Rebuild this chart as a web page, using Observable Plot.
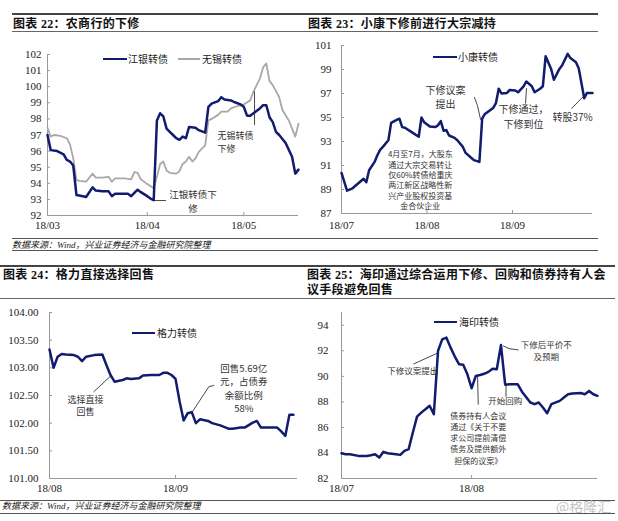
<!DOCTYPE html>
<html><head><meta charset="utf-8">
<script src="https://cdn.jsdelivr.net/npm/d3@7"></script>
<script src="https://cdn.jsdelivr.net/npm/@observablehq/plot@0.6"></script>
<style>
body{margin:0;background:#fff;}
#page{position:relative;width:618px;height:521px;overflow:hidden;font-family:"Noto Sans CJK SC",sans-serif;color:#222;}
</style></head><body><div id="page"></div>
<script>
// ---------- data ----------
const YEAR = "2018-";
// 图表22 江银转债 / 无锡转债
const jyDates = ["03-01","03-02","03-04","03-06","03-07","03-08","03-09","03-10","03-12","03-13","03-15","03-16","03-18","03-20","03-21","03-22","03-25","03-26","03-27","03-29","03-30","04-01","04-02","04-03","04-04","04-05","04-06","04-07","04-08","04-09","04-10","04-11","04-12","04-13","04-14","04-16","04-17","04-19","04-20","04-21","04-23","04-24","04-25","04-27","04-28","04-30","05-01","05-02","05-03","05-04","05-06","05-07","05-08","05-09","05-10","05-11","05-12","05-13","05-14","05-16","05-17","05-18"];
const jyValues = [97.0,96.06,96.0,95.8,95.45,95.35,95.1,93.27,93.2,93.15,93.75,93.55,93.5,93.5,93.2,93.35,93.35,93.35,93.2,93.6,93.45,93.2,93.05,92.95,97.9,98.35,98.15,97.4,97.2,97.0,96.8,96.7,96.9,96.8,97.5,97.45,97.3,97.15,98.75,98.95,99.1,99.35,99.2,99.15,99.05,98.9,98.75,98.2,98.2,98.35,98.65,98.85,98.85,98.1,97.8,97.2,97.0,96.75,96.5,95.65,94.6,94.85];
const wxDates = ["03-01","03-02","03-03","03-05","03-07","03-08","03-09","03-10","03-11","03-13","03-15","03-16","03-18","03-20","03-21","03-22","03-25","03-27","03-28","03-29","03-30","04-01","04-03","04-04","04-05","04-06","04-07","04-08","04-10","04-11","04-12","04-13","04-14","04-15","04-16","04-17","04-19","04-20","04-21","04-23","04-24","04-26","04-27","04-29","05-01","05-03","05-04","05-06","05-07","05-08","05-09","05-10","05-12","05-13","05-15","05-16","05-17","05-18"];
const wxValues = [97.45,96.9,97.0,96.95,96.8,96.4,95.55,94.2,94.15,94.1,94.6,94.35,94.35,94.4,94.1,94.3,94.3,94.25,94.7,94.65,94.25,93.95,93.7,94.4,95.2,95.35,94.8,94.65,94.6,94.75,95.2,95.35,95.65,95.35,95.55,95.95,96.35,97.9,98.0,98.25,98.45,98.45,98.65,98.8,98.9,99.15,99.7,100.5,101.2,101.45,100.35,100.1,99.35,98.55,97.9,97.4,96.9,97.7];
// 图表23 小康转债
const xkDates = ["07-01","07-03","07-05","07-07","07-09","07-10","07-11","07-13","07-14","07-15","07-16","07-18","07-19","07-21","07-22","07-23","07-24","07-27","07-29","07-30","07-31","08-02","08-04","08-05","08-06","08-07","08-08","08-09","08-11","08-12","08-14","08-15","08-17","08-18","08-20","08-21","08-22","08-25","08-26","08-27","08-28","08-30","08-31","09-02","09-03","09-05","09-06","09-08","09-09","09-11","09-12","09-13","09-15","09-16","09-18","09-19","09-21","09-22","09-24","09-25","09-27","09-28","09-30"];
const xkValues = [90.38,88.9,89.1,89.5,89.9,89.6,90.6,91.3,91.85,92.3,92.55,93.1,94.55,94.8,94.9,94.2,94.15,93.7,93.4,95.0,94.6,94.25,94.2,94.35,94.7,93.9,93.95,93.5,93.3,93.1,92.55,92.05,91.65,91.45,91.3,94.9,95.3,95.8,96.2,97.4,97.0,97.05,97.3,97.25,97.1,97.6,98.0,97.6,97.1,97.4,97.6,100.1,99.05,98.15,99.05,99.35,100.3,99.95,99.6,99.1,96.6,97.05,97.05];
// 图表24 格力转债
const glDates = ["08-01","08-02","08-03","08-04","08-05","08-07","08-08","08-09","08-10","08-12","08-14","08-15","08-16","08-17","08-19","08-20","08-21","08-23","08-24","08-26","08-28","08-29","08-30","08-31","09-01","09-02","09-03","09-04","09-05","09-06","09-07","09-09","09-10","09-12","09-14","09-15","09-17","09-18","09-20","09-21","09-22","09-23","09-24","09-26","09-27","09-28","09-29","09-30"];
const glValues = [103.33,103.0,103.2,103.25,103.24,103.23,103.2,103.12,103.2,103.23,103.24,103.05,102.87,102.75,102.78,102.81,102.8,102.81,102.86,102.87,102.87,102.91,102.91,102.87,102.8,102.39,102.05,102.18,102.2,102.0,102.07,102.04,102.0,101.96,101.9,101.9,101.92,101.92,102.01,102.04,101.92,101.92,101.92,101.92,101.85,101.77,102.15,102.15];
// 图表25 海印转债
const hyDates = ["07-01","07-02","07-03","07-05","07-07","07-08","07-09","07-10","07-11","07-12","07-14","07-15","07-16","07-17","07-18","07-19","07-20","07-21","07-22","07-23","07-24","07-25","07-26","07-27","07-28","07-29","07-30","07-31","08-01","08-02","08-03","08-04","08-05","08-06","08-07","08-08","08-09","08-10","08-12","08-13","08-15","08-16","08-17","08-18","08-19","08-20","08-22","08-23","08-24","08-25","08-27","08-28","08-29","08-30","08-31"];
const hyValues = [83.98,83.9,83.9,83.77,83.77,83.82,83.9,83.64,84.09,83.98,83.9,83.85,84.16,84.3,85.6,86.85,87.16,87.42,87.7,87.03,92.0,92.9,93.03,92.25,91.55,90.95,90.9,90.16,89.07,90.03,90.1,90.2,90.35,90.6,90.55,92.45,89.35,89.38,89.38,88.8,87.95,87.82,87.95,87.56,87.11,87.82,88.08,88.34,88.6,88.65,88.7,88.6,88.86,88.6,88.47];

// axes
const p1XTicks = ["03-01","04-01","05-01"], p1YTicks = [92,93,94,95,96,97,98,99,100,101,102];
const p2XTicks = ["07-01","08-01","09-01"], p2YTicks = [87,89,91,93,95,97,99,101];
const p3XTicks = ["08-01","09-01"], p3YTicks = [101,101.5,102,102.5,103,103.5,104];
const p4XTicks = ["07-01","08-01"], p4YTicks = [82,84,86,88,90,92,94];

// texts
const titles = ["图表 22：农商行的下修","图表 23：小康下修前进行大宗减持","图表 24：格力直接选择回售","图表 25：海印通过综合运用下修、回购和债券持有人会\n议手段避免回售"];
const sourceText = "数据来源：Wind，兴业证券经济与金融研究院整理";
const legendNames = ["江银转债","无锡转债","小康转债","格力转债","海印转债"];

// annotations (data coordinates)
const p1Notes = [
  {date:"04-22T19", value:96.6, text:"无锡转债\n下修"},
  {date:"04-15T05", value:92.93, text:"江银转债下\n修"}
];
const p1Leaders = [
  [["05-04T08",99.76],["05-04T08",97.65]],
  [["04-02T22",92.93],["04-06T17",92.93]]
];
const p2Notes = [
  {date:"08-07T17", value:96.76, text:"下修议案\n提出"},
  {date:"09-05", value:95.13, text:"下修通过，\n下修到位"},
  {date:"09-22T19", value:95.0, text:"转股37%"},
  {date:"07-29T14", value:89.81, text:"4月至7月，大股东\n通过大宗交易转让\n仅60%转债给重庆\n两江新区战略性新\n兴产业股权投资基\n金合伙企业"}
];
const p2Leaders = [
  [["08-18T05",96.67],["08-19T07",96.0],["08-20T10",94.84]],
  [["09-05T17",96.2],["09-06T02",97.42]],
  [["09-22T10",95.76],["09-26T17",96.75]]
];
const p3Notes = [
  {date:"08-09T20", value:102.33, text:"选择直接\n回售"},
  {date:"09-17T19", value:102.64, text:"回售5.69亿\n元，占债券\n余额比例\n58%"}
];
const p3Leaders = [
  [["08-11T22",102.57],["08-16",102.85]],
  [["09-10T10",102.68],["09-09T05",102.66],["09-05T02",102.2]]
];
const p4Notes = [
  {date:"07-18", value:90.43, text:"下修议案提出"},
  {date:"08-18T19", value:92.05, text:"下修后平价不\n及预期"},
  {date:"08-09", value:88.08, text:"开始回购"},
  {date:"08-02T14", value:85.18, text:"债券持有人会议\n通过《关于不要\n求公司提前清偿\n债务及提供额外\n担保的议案》"}
];
const p4Leaders = [
  [["07-18T05",90.97],["07-24",91.84]],
  [["08-08T14",92.38],["08-09T22",92.17],["08-12T02",92.07]],
  [["08-09T05",89.31],["08-09T05",88.42]],
  [["08-02T10",90.04],["08-02T14",87.82]]
];

// ---------- drawing ----------
const NAVY = "#111c6e", GRAY = "#a8a8a8", AXIS = "#9a9a9a";
const SERIF = "'Liberation Serif','Times New Roman',serif";
const CJK = "'Noto Sans CJK SC',sans-serif";
const parse = s => new Date(YEAR + s + (s.length > 5 ? ":00Z" : "T00:00Z"));
const page = document.getElementById("page");
function el(style, text) {
  const e = document.createElement("div");
  Object.assign(e.style, {position: "absolute"}, style);
  if (text != null) e.textContent = text;
  page.appendChild(e); return e;
}
function rule(x, y, w, t, c) { el({left: x + "px", top: (y - t / 2) + "px", width: w + "px", height: t + "px", background: c}); }
function label(x, cy, text, size, extra) {
  el(Object.assign({left: x + "px", top: (cy - size * 0.7) + "px", fontSize: size + "px", lineHeight: (size * 1.4) + "px", whiteSpace: "pre"}, extra || {}), text);
}
function swatch(x1, x2, y, color, w) { rule(x1, y, x2 - x1, w, color); }

function series(dates, values) { return dates.map((d, i) => ({date: parse(d), value: values[i]})); }

function chart(cfg) {
  const marks = [
    Plot.ruleX([parse(cfg.xDomain[0])], {stroke: AXIS}),
    Plot.ruleY([cfg.yDomain[0]], {stroke: AXIS}),
    Plot.axisX(cfg.xTicks.map(parse), {tickFormat: d3.utcFormat("%y/%m"), tickSize: -3, tickPadding: cfg.xPad, stroke: AXIS, fill: "#222", fontSize: 11, fontFamily: SERIF, label: null}),
    Plot.axisY(cfg.yTicks, {tickFormat: cfg.yFormat, tickSize: -3, tickPadding: cfg.yPad, stroke: AXIS, fill: "#222", fontSize: 11, fontFamily: SERIF, label: null})
  ];
  for (const L of cfg.leaders) {
    marks.push(Plot.line(L.map(([d, v]) => ({date: parse(d), value: v})), {x: "date", y: "value", stroke: "#333", strokeWidth: 0.9}));
  }
  for (const s of cfg.series) {
    marks.push(Plot.line(s.data, {x: "date", y: "value", stroke: s.color, strokeWidth: s.width, strokeLinejoin: "round"}));
  }
  cfg.notes.forEach((n, i) => {
    const st = cfg.noteStyle[i];
    marks.push(Plot.text([n], {x: d => parse(d.date), y: "value", text: "text", fontSize: st.size, lineHeight: st.lh, textAnchor: st.anchor || "middle", fontFamily: CJK, fill: "#333"}));
  });
  const svg = Plot.plot({
    width: cfg.width, height: cfg.height,
    marginTop: cfg.m[0], marginRight: cfg.m[1], marginBottom: cfg.m[2], marginLeft: cfg.m[3],
    style: {background: "none", fontFamily: SERIF, fontSize: "11px", overflow: "visible"},
    x: {type: "utc", domain: cfg.xDomain.map(parse), label: null},
    y: {domain: cfg.yDomain, label: null},
    marks
  });
  const wrap = el({left: cfg.left + "px", top: cfg.top + "px", width: cfg.width + "px", height: cfg.height + "px"});
  wrap.appendChild(svg);
}

// headers & rules
const titleStyle = {fontWeight: "bold", fontFamily: "'Liberation Serif','Noto Sans CJK SC',serif", letterSpacing: "0.3px", color: "#111"};
rule(12, 14, 586, 1.5, "#444");
el(Object.assign({left: "13px", top: "16.5px", fontSize: "12px", lineHeight: "15px", whiteSpace: "pre"}, titleStyle), titles[0]);
el(Object.assign({left: "308px", top: "16.5px", fontSize: "12px", lineHeight: "15px", whiteSpace: "pre"}, titleStyle), titles[1]);
rule(12, 31.5, 586, 1, "#666");
rule(12, 238, 586, 1, "#555");
label(12, 245, sourceText, 9, {fontFamily: "'Liberation Serif','Noto Sans CJK SC',serif", fontStyle: "italic"});
rule(12, 250, 586, 1, "#555");

rule(0, 266, 615, 1.5, "#444");
el(Object.assign({left: "3px", top: "267.5px", fontSize: "12px", lineHeight: "15px", whiteSpace: "pre"}, titleStyle), titles[2]);
el(Object.assign({left: "307px", top: "267.5px", fontSize: "12px", lineHeight: "15px", whiteSpace: "pre"}, titleStyle), titles[3]);
rule(0, 298, 615, 1, "#666");
rule(0, 500, 615, 1, "#555");
label(2, 506.5, sourceText, 9, {fontFamily: "'Liberation Serif','Noto Sans CJK SC',serif", fontStyle: "italic"});
label(556, 507, "@格隆汇", 14, {color: "#c4c4c4"});
rule(0, 513, 615, 1, "#555");

// charts
chart({left: 0, top: 40, width: 310, height: 200, m: [14, 12, 25, 47],
  xDomain: ["03-01", "05-18"], yDomain: [92, 102], xTicks: p1XTicks, yTicks: p1YTicks, yFormat: d3.format("d"), xPad: 9, yPad: 9,
  series: [{data: series(wxDates, wxValues), color: GRAY, width: 1.8}, {data: series(jyDates, jyValues), color: NAVY, width: 2.5}],
  notes: p1Notes, noteStyle: [{size: 9, lh: 1.4, anchor: "start"}, {size: 9.5, lh: 1.47}], leaders: p1Leaders});
chart({left: 305, top: 35, width: 305, height: 200, m: [10, 18, 22, 36],
  xDomain: ["07-01", "09-30"], yDomain: [87, 101], xTicks: p2XTicks, yTicks: p2YTicks, yFormat: d3.format("d"), xPad: 11, yPad: 13,
  series: [{data: series(xkDates, xkValues), color: NAVY, width: 2.5}],
  notes: p2Notes, noteStyle: [{size: 10, lh: 1.4}, {size: 10, lh: 1.5}, {size: 10, lh: 1.2}, {size: 8, lh: 1.3}], leaders: p2Leaders});
chart({left: 0, top: 300, width: 310, height: 198, m: [12, 13, 20, 49],
  xDomain: ["08-01", "10-01"], yDomain: [101, 104], xTicks: p3XTicks, yTicks: p3YTicks, yFormat: d3.format(".2f"), xPad: 9, yPad: 14,
  series: [{data: series(glDates, glValues), color: NAVY, width: 2.5}],
  notes: p3Notes, noteStyle: [{size: 9, lh: 1.4}, {size: 9.5, lh: 1.4}], leaders: p3Leaders});
chart({left: 305, top: 300, width: 305, height: 198, m: [12, 13, 20, 36],
  xDomain: ["07-01", "08-31"], yDomain: [82, 95], xTicks: p4XTicks, yTicks: p4YTicks, yFormat: d3.format("d"), xPad: 8.5, yPad: 16,
  series: [{data: series(hyDates, hyValues), color: NAVY, width: 2.5}],
  notes: p4Notes, noteStyle: [{size: 8.5, lh: 1.2}, {size: 8.5, lh: 1.4}, {size: 8.5, lh: 1.2}, {size: 8, lh: 1.38}], leaders: p4Leaders});

// legends
swatch(103, 127, 59, NAVY, 2.5); label(128, 59, legendNames[0], 10);
swatch(178, 200, 59, GRAY, 1.8); label(202, 59, legendNames[1], 10);
swatch(433, 457, 57, NAVY, 2.5); label(458, 57, legendNames[2], 10);
swatch(132, 155, 333, NAVY, 2.5); label(157, 333, legendNames[3], 10);
swatch(434, 457, 322, NAVY, 2.5); label(459, 322, legendNames[4], 10);
</script></body></html>
